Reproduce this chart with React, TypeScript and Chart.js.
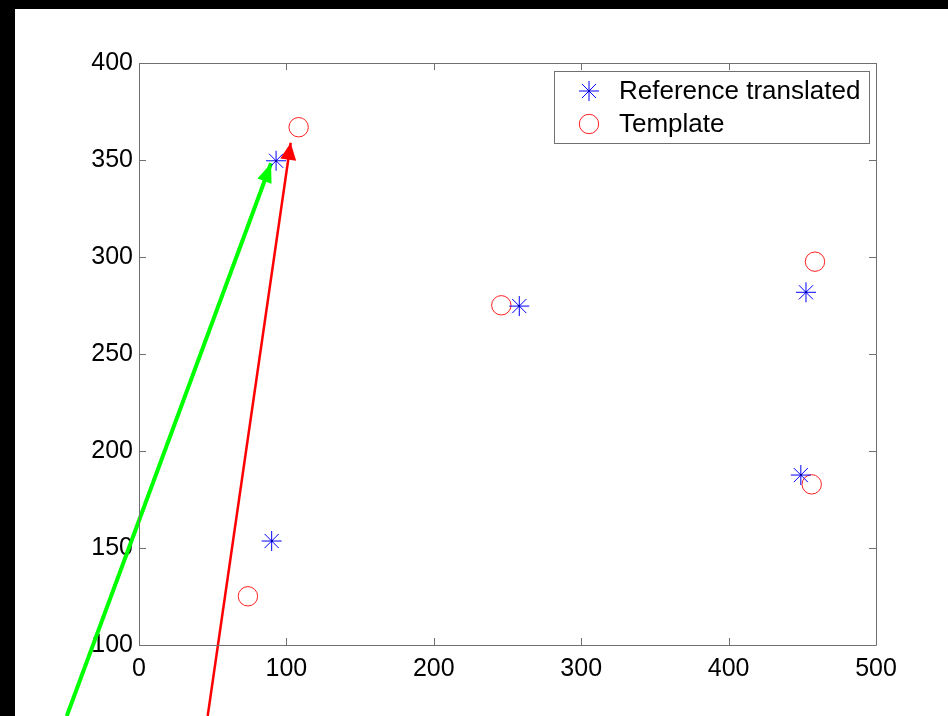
import React, { useEffect, useRef } from 'react';
import { Chart, registerables } from 'chart.js';

Chart.register(...registerables);

const FONT = '"Liberation Sans", Arial, sans-serif';

// Data
const refX = [93, 90, 258, 452.5, 449];
const refY = [349.6, 153.6, 274.7, 281.8, 187.6];
const tplX = [108.3, 73.9, 245.8, 458.6, 456.4];
const tplY = [366.9, 125.1, 275.1, 297.6, 182.8];

const greenArrowX = [-49, 89.6];
const greenArrowY = [63.4, 348.3];
const redArrowX = [46.6, 102.9];
const redArrowY = [63.4, 358.9];

const xTicks = [0, 100, 200, 300, 400, 500];
const yTicks = [100, 150, 200, 250, 300, 350, 400];
const seriesLabels = ['Reference translated', 'Template'];

const toPts = (xs: number[], ys: number[]) => xs.map((x, i) => ({ x, y: ys[i] }));

const framePlugin = {
  id: 'frame',
  beforeDraw(chart: any) {
    const ctx = chart.ctx;
    ctx.save();
    ctx.fillStyle = '#fff';
    ctx.fillRect(0, 0, chart.width, chart.height);
    ctx.fillStyle = '#000';
    ctx.fillRect(0, 0, chart.width, 9);
    ctx.fillRect(0, 0, 15, chart.height);
    ctx.restore();
  },
  afterDatasetsDraw(chart: any) {
    const ctx = chart.ctx;
    const a = chart.chartArea;
    const xs = chart.scales.x;
    const ys = chart.scales.y;
    const tl = 7;
    ctx.save();
    ctx.strokeStyle = '#707070';
    ctx.lineWidth = 1;
    ctx.beginPath();
    ctx.rect(Math.round(a.left) + 0.5, Math.round(a.top) + 0.5, Math.round(a.right - a.left), Math.round(a.bottom - a.top));
    ctx.stroke();
    ctx.beginPath();
    xTicks.forEach((v) => {
      const px = Math.round(xs.getPixelForValue(v)) + 0.5;
      ctx.moveTo(px, a.bottom);
      ctx.lineTo(px, a.bottom - tl);
      ctx.moveTo(px, a.top);
      ctx.lineTo(px, a.top + tl);
    });
    yTicks.forEach((v) => {
      const py = Math.round(ys.getPixelForValue(v)) + 0.5;
      ctx.moveTo(a.left, py);
      ctx.lineTo(a.left + tl, py);
      ctx.moveTo(a.right, py);
      ctx.lineTo(a.right - tl, py);
    });
    ctx.stroke();
    // small dark centre dots of the star markers
    const meta = chart.getDatasetMeta(0);
    ctx.fillStyle = '#0000aa';
    meta.data.forEach((p: any) => {
      ctx.fillRect(Math.round(p.x) - 1, Math.round(p.y) - 1, 2, 2);
    });
    ctx.restore();
  },
};

const arrowPlugin = {
  id: 'arrowHeads',
  afterDatasetsDraw(chart: any) {
    const ctx = chart.ctx;
    chart.data.datasets.forEach((ds: any, i: number) => {
      if (!ds.arrow) return;
      const meta = chart.getDatasetMeta(i);
      const p0 = meta.data[0];
      const p1 = meta.data[meta.data.length - 1];
      const dx = p1.x - p0.x;
      const dy = p1.y - p0.y;
      const len = Math.hypot(dx, dy);
      const ux = dx / len;
      const uy = dy / len;
      const L = ds.arrow.length;
      const W = ds.arrow.width / 2;
      const bx = p1.x - ux * L;
      const by = p1.y - uy * L;
      ctx.save();
      ctx.fillStyle = ds.borderColor;
      ctx.beginPath();
      ctx.moveTo(p1.x, p1.y);
      ctx.lineTo(bx - uy * W, by + ux * W);
      ctx.lineTo(bx + uy * W, by - ux * W);
      ctx.closePath();
      ctx.fill();
      ctx.restore();
    });
  },
};

const legendPlugin = {
  id: 'boxLegend',
  afterDraw(chart: any) {
    const ctx = chart.ctx;
    const left = 554.5, top = 71.5, w = 315, h = 72;
    ctx.save();
    ctx.fillStyle = '#fff';
    ctx.fillRect(left, top, w, h);
    ctx.strokeStyle = '#707070';
    ctx.lineWidth = 1;
    ctx.strokeRect(left, top, w, h);
    const mx = 589;
    const rows = [91, 124];
    // star marker
    ctx.strokeStyle = '#0000ff';
    ctx.beginPath();
    const r = 10;
    for (let k = 0; k < 4; k++) {
      const ang = (k * Math.PI) / 4;
      ctx.moveTo(mx - Math.cos(ang) * r, rows[0] - Math.sin(ang) * r);
      ctx.lineTo(mx + Math.cos(ang) * r, rows[0] + Math.sin(ang) * r);
    }
    ctx.stroke();
    ctx.fillStyle = '#0000aa';
    ctx.fillRect(mx - 1, rows[0] - 1, 2, 2);
    // circle marker
    ctx.strokeStyle = '#ff2020';
    ctx.beginPath();
    ctx.arc(mx, rows[1], 9.7, 0, Math.PI * 2);
    ctx.stroke();
    ctx.fillStyle = '#000';
    ctx.font = `26px ${FONT}`;
    ctx.textBaseline = 'middle';
    ctx.textAlign = 'left';
    seriesLabels.forEach((t, i) => ctx.fillText(t, 619, rows[i] + 1));
    ctx.restore();
  },
};

export default function App() {
  const ref = useRef<HTMLCanvasElement>(null);
  useEffect(() => {
    document.body.style.margin = '0';
    const canvas = ref.current;
    if (!canvas) return;
    const chart = new Chart(canvas, {
      type: 'scatter',
      data: {
        datasets: [
          {
            label: seriesLabels[0],
            data: toPts(refX, refY),
            pointStyle: 'star',
            pointRadius: 10,
            borderColor: '#0000ff',
            backgroundColor: 'rgba(0,0,0,0)',
            borderWidth: 1,
          },
          {
            label: seriesLabels[1],
            data: toPts(tplX, tplY),
            pointStyle: 'circle',
            pointRadius: 9.7,
            borderColor: '#ff2020',
            backgroundColor: 'rgba(0,0,0,0)',
            borderWidth: 1,
          },
          {
            label: 'green arrow',
            data: toPts(greenArrowX, greenArrowY),
            showLine: true,
            borderColor: '#00ff00',
            borderWidth: 4,
            pointRadius: 0,
            clip: false,
            arrow: { length: 19, width: 15 },
          } as any,
          {
            label: 'red arrow',
            data: toPts(redArrowX, redArrowY),
            showLine: true,
            borderColor: '#ff0000',
            borderWidth: 2.5,
            pointRadius: 0,
            clip: false,
            arrow: { length: 17, width: 16 },
          } as any,
        ],
      },
      options: {
        responsive: false,
        animation: false,
        events: [],
        layout: { padding: { top: 63, right: 72, left: 0, bottom: 0 } },
        plugins: { legend: { display: false }, tooltip: { enabled: false } },
        scales: {
          x: {
            type: 'linear',
            min: 0,
            max: 500,
            afterBuildTicks: (s: any) => { s.ticks = xTicks.map((v) => ({ value: v })); },
            afterFit: (s: any) => { s.height = 71; },
            grid: { display: false, drawTicks: false },
            border: { display: false },
            ticks: { color: '#000', font: { family: FONT, size: 25 }, padding: 9, maxRotation: 0, autoSkip: false },
          },
          y: {
            type: 'linear',
            min: 100,
            max: 400,
            afterBuildTicks: (s: any) => { s.ticks = yTicks.map((v) => ({ value: v })); },
            afterFit: (s: any) => { s.width = 139; },
            grid: { display: false, drawTicks: false },
            border: { display: false },
            ticks: { color: '#000', font: { family: FONT, size: 25 }, padding: 6, autoSkip: false },
          },
        },
      } as any,
      plugins: [framePlugin, arrowPlugin, legendPlugin],
    });
    return () => chart.destroy();
  }, []);
  return (
    <div style={{ position: 'fixed', left: 0, top: 0, width: 948, height: 716, background: '#fff' }}>
      <canvas ref={ref} width={948} height={716} style={{ display: 'block' }} />
    </div>
  );
}
